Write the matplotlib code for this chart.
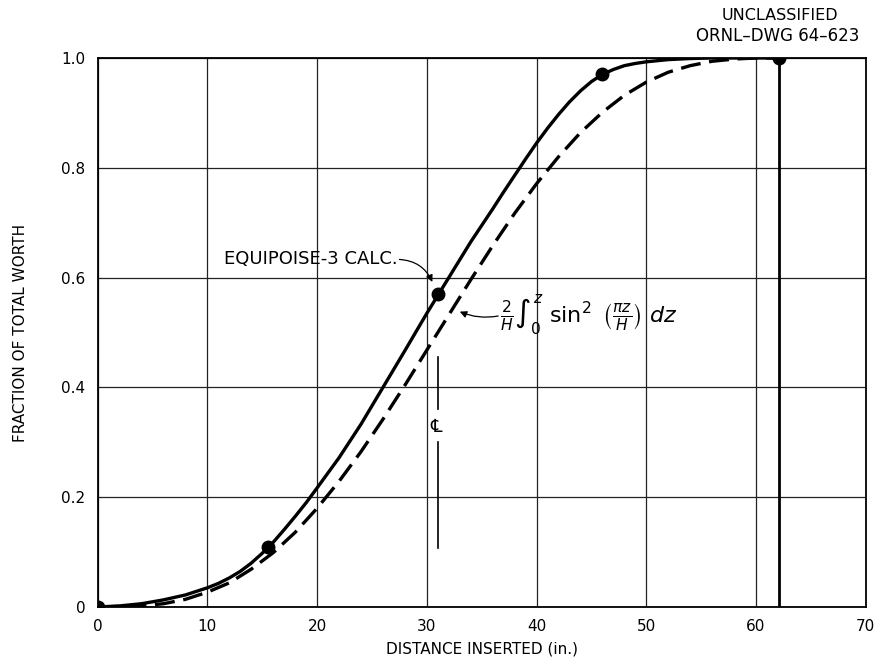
import matplotlib
matplotlib.use("Agg")
import matplotlib.pyplot as plt

# Chart data
x_ticks = [0, 10, 20, 30, 40, 50, 60, 70]
y_ticks = [0, 0.2, 0.4, 0.6, 0.8, 1.0]
y_tick_labels = ["0", "0.2", "0.4", "0.6", "0.8", "1.0"]

# EQUIPOISE-3 calculated points
calc_x = [0, 15.5, 31.0, 46.0, 62.1]
calc_y = [0, 0.110, 0.570, 0.970, 1.0]

# solid curve through the calculated points
solid_x = [0, 2, 4, 6, 8, 10, 11, 12, 13, 14, 15, 16, 17, 18, 19, 20, 22, 24,
           26, 28, 30, 32, 34, 36, 37, 38, 39, 40, 41, 42, 43, 44, 45, 46, 47,
           48, 49, 50, 52, 54, 56, 58, 60, 62.1]
solid_y = [0, 0.002, 0.006, 0.013, 0.022, 0.035, 0.043, 0.053, 0.065, 0.080,
           0.098, 0.118, 0.141, 0.165, 0.190, 0.217, 0.272, 0.333, 0.400,
           0.467, 0.535, 0.600, 0.665, 0.725, 0.756, 0.786, 0.816, 0.845,
           0.872, 0.897, 0.920, 0.940, 0.957, 0.970, 0.979, 0.986, 0.990,
           0.993, 0.997, 0.999, 1.0, 1.0, 1.0, 1.0]

# dashed curve (sin^2 integral)
dash_x = [0, 2, 4, 6, 8, 10, 12, 14, 16, 18, 20, 22, 24, 26, 28, 30,
          32, 34, 36, 38, 40, 42, 44, 46, 48, 50, 52, 54, 56, 58, 60, 62.1]
dash_y = [0, 0.001, 0.002, 0.006, 0.014, 0.027, 0.044, 0.069, 0.099, 0.136,
          0.180, 0.229, 0.283, 0.342, 0.404, 0.468, 0.532, 0.596, 0.658,
          0.717, 0.771, 0.820, 0.864, 0.901, 0.932, 0.956, 0.974, 0.986,
          0.994, 0.998, 1.0, 1.0]

full_insertion = 62.1
centre_x = 31.05

plt.rcParams["font.family"] = ["DejaVu Sans", "Noto Sans CJK SC"]

fig = plt.figure(figsize=(8.78, 6.61), dpi=100)
ax = fig.add_axes([0.1113, 0.0817, 0.8747, 0.8306])

ax.set_xlim(0, 70)
ax.set_ylim(0, 1.0)
ax.set_xticks(x_ticks)
ax.set_yticks(y_ticks)
ax.set_yticklabels(y_tick_labels)
ax.tick_params(length=0, labelsize=11, pad=9)
ax.grid(True, color="#222222", linewidth=0.9)
ax.set_axisbelow(True)
for sp in ax.spines.values():
    sp.set_linewidth(1.3)

# curves
ax.plot(solid_x, solid_y, color="black", linewidth=2.4,
        solid_capstyle="round", solid_joinstyle="round")
ax.plot(dash_x, dash_y, color="black", linewidth=2.4, dashes=(6, 2.6))
ax.plot(calc_x, calc_y, "o", color="black", markersize=9, zorder=5)

# full insertion line and centre line
ax.plot([full_insertion, full_insertion], [0, 1.0], color="black", linewidth=2.0)
ax.plot([centre_x, centre_x], [0.36, 0.456], color="black", linewidth=1.2)
ax.plot([centre_x, centre_x], [0.107, 0.30], color="black", linewidth=1.2)
ax.text(centre_x - 0.2, 0.328, "\u2104", fontsize=13, ha="center", va="center")

# labels
ax.set_xlabel("DISTANCE INSERTED (in.)", fontsize=11, labelpad=5)
ax.set_ylabel("FRACTION OF TOTAL WORTH", fontsize=11, labelpad=24)

ax.text(27.3, 0.634, "EQUIPOISE-3 CALC.", fontsize=13, ha="right", va="center")
ax.annotate("", xy=(30.5, 0.592), xytext=(27.5, 0.633),
            arrowprops=dict(arrowstyle="-|>", color="black", lw=0.9,
                            connectionstyle="arc3,rad=-0.3",
                            shrinkA=0, shrinkB=0))

ax.text(36.7, 0.533,
        r"$\frac{2}{H}\int_0^z\ \sin^2\ \left(\frac{\pi z}{H}\right)\ dz$",
        fontsize=16, ha="left", va="center")
ax.annotate("", xy=(33.0, 0.538), xytext=(36.5, 0.530),
            arrowprops=dict(arrowstyle="-|>", color="black", lw=0.9,
                            connectionstyle="arc3,rad=-0.15",
                            shrinkA=0, shrinkB=0))

fig.text(0.888, 0.976, "UNCLASSIFIED", fontsize=11.5, ha="center", va="center")
fig.text(0.886, 0.946, "ORNL\u2013DWG 64\u2013623", fontsize=12, ha="center", va="center")

fig.savefig("out.png", dpi=100)
